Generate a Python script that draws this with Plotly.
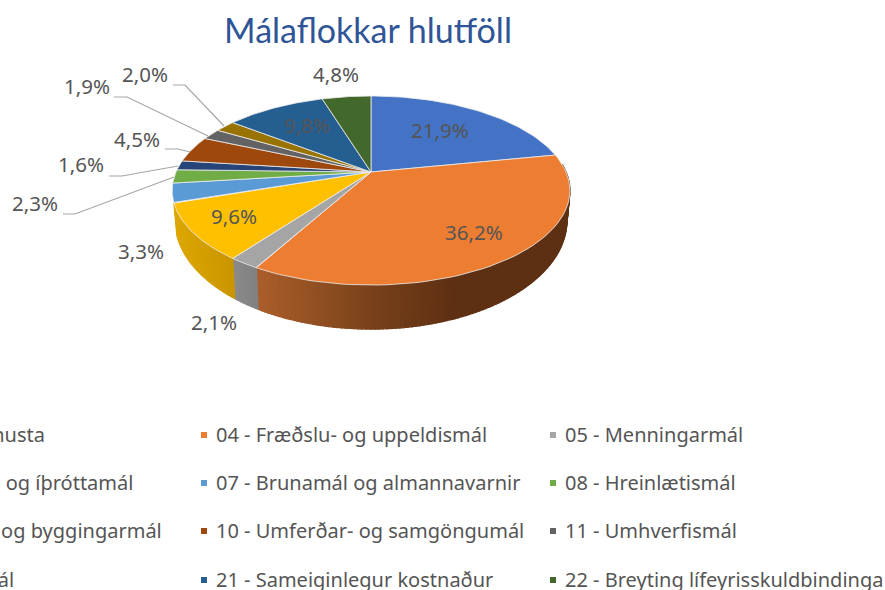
import numpy as np
import plotly.graph_objects as go

# ---- data ----
categories = [
    "02 - Félagsþjónusta", "04 - Fræðslu- og uppeldismál", "05 - Menningarmál",
    "06 - Æskulýðs- og íþróttamál", "07 - Brunamál og almannavarnir", "08 - Hreinlætismál",
    "09 - Skipulags- og byggingarmál", "10 - Umferðar- og samgöngumál", "11 - Umhverfismál",
    "13 - Atvinnumál", "21 - Sameiginlegur kostnaður", "22 - Breyting lífeyrisskuldbindinga",
]
shares = [21.9, 36.2, 2.1, 9.6, 3.3, 2.3, 1.6, 4.5, 1.9, 2.0, 9.8, 4.8]
title = "Málaflokkar hlutföll"

# ---- style ----
colors = ["#4472C4", "#ED7D31", "#A5A5A5", "#FFC000", "#5B9BD5", "#70AD47",
          "#264478", "#9E480E", "#636363", "#997300", "#255E91", "#43682B"]
TEXT = "#555555"
LEAD = "#a6a6a6"
FONT = "Noto Sans"
LABEL_SIZE = 20.5
LEGEND_SIZE = 20

# perspective projection of the pie's disc onto the page
CX, CY, A, B, K = 371.0, 172.0, 195.0, 90.9, 0.196
def top(theta):
    d = 1 + K * np.cos(theta)
    return CX + A * np.sin(theta) / d, CY - B * np.cos(theta) / d
def bottom(theta):
    x, y = top(theta)
    return CX + (x - CX) * 0.985, 199.4 + (y - CY) * 1.147

def hex2rgb(c):
    return np.array([int(c[i:i + 2], 16) for i in (1, 3, 5)], float)
def ramp(stops, x):
    xs = [s[0] for s in stops]
    cols = np.array([hex2rgb(s[1]) for s in stops])
    return "rgb(%d,%d,%d)" % tuple(np.interp(x, xs, cols[:, i]) for i in range(3))

wall_ramps = {
    1: [(262, "#A95D2A"), (380, "#76401A"), (455, "#5E3013")],
    2: [(235, "#8A8A8A"), (262, "#7E7E7E")],
    3: [(178, "#DCA600"), (237, "#C79500")],
}

edges = np.radians(np.cumsum([0] + shares) * 3.6)
fig = go.Figure()

# side wall, drawn in thin strips so the shading can change along it
for i, ramp_stops in wall_ramps.items():
    a0, a1 = edges[i], edges[i + 1]
    a0 = max(a0, np.radians(85))
    n = max(2, int(np.degrees(a1 - a0) / 1.0))
    grid = np.linspace(a0, a1, n + 1)
    for t0, t1 in zip(grid[:-1], grid[1:]):
        xa, ya = top(t0); xb, yb = top(t1)
        xc, yc = bottom(t1); xd, yd = bottom(t0)
        col = ramp(ramp_stops, (xa + xb) / 2)
        fig.add_trace(go.Scatter(x=[xa, xb, xc, xd, xa], y=[ya, yb, yc, yd, ya],
                                 mode="lines", fill="toself", fillcolor=col,
                                 line=dict(color=col, width=1.3), hoverinfo="skip"))

# top face
for i, name in enumerate(categories):
    th = np.linspace(edges[i], edges[i + 1], 60)
    xs, ys = top(th)
    fig.add_trace(go.Scatter(x=np.r_[CX, xs, CX], y=np.r_[CY, ys, CY], mode="lines",
                             fill="toself", fillcolor=colors[i], name=name,
                             line=dict(color="#ececec", width=0.8),
                             hovertemplate=name + ": %{text}<extra></extra>",
                             text=[f"{shares[i]}%"] * 62))

# leader lines for the small slices (2,3 / 1,6 / 4,5 / 1,9 / 2,0)
leaders = [
    ([63, 75, 174], [214, 214, 177]),
    ([109, 122, 178], [176, 176, 166]),
    ([165, 178, 190], [149, 149, 152]),
    ([114, 127, 208], [97, 97, 136]),
    ([173, 185, 224], [85, 85, 126]),
]
for lx, ly in leaders:
    fig.add_trace(go.Scatter(x=lx, y=ly, mode="lines", line=dict(color=LEAD, width=1.2),
                             hoverinfo="skip"))

# legend
col_marker = [-150, 204, 553]
col_text = [None, 214, 563]
rows = [434, 482, 530, 579]
first_col_right = [47, 135, 164, 16]
mx, my, mc = [], [], []
annotations = []
for i, name in enumerate(categories):
    r, c = i // 3, i % 3
    if c > 0:
        mx.append(col_marker[c]); my.append(rows[r] + 1); mc.append(colors[i])
        annotations.append(dict(x=col_text[c], y=rows[r], text=name, xanchor="left",
                                font=dict(size=LEGEND_SIZE, color=TEXT, family=FONT)))
    else:
        annotations.append(dict(x=first_col_right[r], y=rows[r], text=name, xanchor="right",
                                font=dict(size=LEGEND_SIZE, color=TEXT, family=FONT)))
fig.add_trace(go.Scatter(x=mx, y=my, mode="markers", hoverinfo="skip",
                         marker=dict(symbol="square", size=6, color=mc)))

# percentage labels
label_pos = [(440, 130), (474, 232), (214, 322), (234, 216), (141, 251), (35, 203),
             (81, 164), (137, 139), (87, 86), (145, 74), (307, 125), (336, 74)]
for v, (x, y) in zip(shares, label_pos):
    annotations.append(dict(x=x, y=y, text=f"{v:.1f}%".replace(".", ","), xanchor="center",
                            font=dict(size=LABEL_SIZE, color=TEXT, family=FONT)))
for a in annotations:
    a.update(xref="x", yref="y", yanchor="middle", showarrow=False)

fig.update_layout(
    width=885, height=590, autosize=False, showlegend=False,
    margin=dict(l=0, r=0, t=0, b=0), paper_bgcolor="white", plot_bgcolor="white",
    title=dict(text=title, x=368 / 885, y=1 - 31 / 590, xanchor="center", yanchor="middle",
               font=dict(size=34, color="#2F5597", family="Lato")),
    xaxis=dict(range=[0, 885], visible=False, fixedrange=True),
    yaxis=dict(range=[590, 0], visible=False, fixedrange=True),
    annotations=annotations,
)
fig.write_html("out.html", config={"displayModeBar": False},
               post_script="document.body.style.margin='0';document.body.style.overflow='hidden';")
